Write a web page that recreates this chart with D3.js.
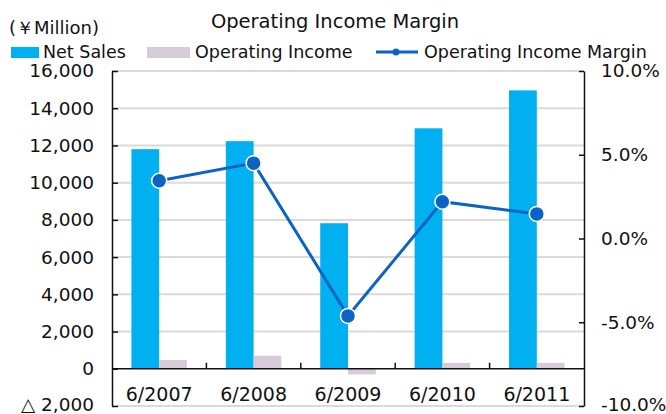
<!DOCTYPE html>
<html>
<head>
<meta charset="utf-8">
<script src="https://cdnjs.cloudflare.com/ajax/libs/d3/7.8.5/d3.min.js"></script>
<style>
    body { margin: 0; background: #fff; }
    svg text { font-family: 'DejaVu Sans', Verdana, sans-serif; fill: #111; }
</style>
</head>
<body>
<svg id="chart" width="666" height="414"></svg>
<script>
const categories = ['6/2007', '6/2008', '6/2009', '6/2010', '6/2011'];
const netSales = [11800, 12230, 7820, 12920, 14960];
const operatingIncome = [470, 700, -300, 320, 320];
const incomeMargin = [3.45, 4.5, -4.62, 2.2, 1.47];
const leftTicks = [-2000, 0, 2000, 4000, 6000, 8000, 10000, 12000, 14000, 16000];
const rightTicks = [-10, -5, 0, 5, 10];

const margin = { top: 71, right: 82, bottom: 8, left: 112 };
const W = 666;
const H = 414;
const width = W - margin.left - margin.right;
const height = H - margin.top - margin.bottom;

const svg = d3.select('#chart');
const g = svg.append('g').attr('transform', `translate(${margin.left},${margin.top})`);

const x = d3.scaleBand().domain(categories).range([0, width]).padding(0);
const x1 = d3.scaleBand().domain(['sales', 'income']).range([0, x.bandwidth()]).paddingInner(0).paddingOuter(0.7);
const y = d3.scaleLinear().domain([-2000, 16000]).range([height, 0]);
const y2 = d3.scaleLinear().domain([-10, 10]).range([height, 0]);

// gridlines
g.append('g')
    .selectAll('line')
    .data(leftTicks.filter((d) => d !== 0))
    .join('line')
    .attr('x1', 0)
    .attr('x2', width)
    .attr('y1', (d) => y(d))
    .attr('y2', (d) => y(d))
    .attr('stroke', '#dadada')
    .attr('stroke-width', 2);

// bars
const rows = categories.map((c, i) => ({ cat: c, sales: netSales[i], income: operatingIncome[i], margin: incomeMargin[i] }));

g.append('g')
    .selectAll('rect')
    .data(rows)
    .join('rect')
    .attr('x', (d) => x(d.cat) + x1('sales'))
    .attr('width', x1.bandwidth())
    .attr('y', (d) => y(d.sales))
    .attr('height', (d) => y(0) - y(d.sales))
    .attr('fill', '#00b0f0');

g.append('g')
    .selectAll('rect')
    .data(rows)
    .join('rect')
    .attr('x', (d) => x(d.cat) + x1('income'))
    .attr('width', x1.bandwidth())
    .attr('y', (d) => y(Math.max(0, d.income)))
    .attr('height', (d) => Math.abs(y(0) - y(d.income)))
    .attr('fill', '#d6ccd7');

// axes
const axisLeft = d3.axisLeft(y)
    .tickValues(leftTicks)
    .tickSizeInner(-6)
    .tickSizeOuter(0)
    .tickPadding(18)
    .tickFormat((d) => (d < 0 ? '△ ' + d3.format(',')(-d) : d3.format(',')(d)));

const gl = g.append('g').call(axisLeft);

const axisRight = d3.axisRight(y2)
    .tickValues(rightTicks)
    .tickSizeInner(-5)
    .tickSizeOuter(0)
    .tickPadding(17)
    .tickFormat((d) => d.toFixed(1) + '%');

const gr = g.append('g').attr('transform', `translate(${width},0)`).call(axisRight);

[gl, gr].forEach((a) => {
    a.select('.domain').attr('stroke', '#111').attr('stroke-width', 1.5);
    a.selectAll('.tick line').attr('stroke', '#111').attr('stroke-width', 1.5);
    a.selectAll('.tick text').attr('font-size', 18.5).attr('fill', '#111');
});

// bottom labels sit just inside the picture
gl.selectAll('.tick text').filter((d) => d === leftTicks[0]).attr('dy', '0.22em');
gr.selectAll('.tick text').filter((d) => d === rightTicks[0]).attr('dy', '0.22em');

// category axis on zero line
const xg = g.append('g').attr('transform', `translate(0,${y(0)})`);
xg.append('line')
    .attr('x1', 0)
    .attr('x2', width)
    .attr('stroke', '#111')
    .attr('stroke-width', 1.5);

xg.selectAll('.bound')
    .data(categories.slice(1))
    .join('line')
    .attr('class', 'bound')
    .attr('x1', (d) => x(d))
    .attr('x2', (d) => x(d))
    .attr('y1', -6)
    .attr('y2', 0)
    .attr('stroke', '#111')
    .attr('stroke-width', 1.5);

xg.selectAll('.cat')
    .data(categories)
    .join('text')
    .attr('class', 'cat')
    .attr('x', (d) => x(d) + x.bandwidth() / 2)
    .attr('y', 32)
    .attr('text-anchor', 'middle')
    .attr('font-size', 19)
    .text((d) => d);

// margin line
const line = d3.line()
    .x((d) => x(d.cat) + x.bandwidth() / 2)
    .y((d) => y2(d.margin));

g.append('path')
    .datum(rows)
    .attr('d', line)
    .attr('fill', 'none')
    .attr('stroke', '#0c63c6')
    .attr('stroke-width', 3);

g.append('g')
    .selectAll('circle')
    .data(rows)
    .join('circle')
    .attr('cx', (d) => x(d.cat) + x.bandwidth() / 2)
    .attr('cy', (d) => y2(d.margin))
    .attr('r', 7.5)
    .attr('fill', '#0c63c6')
    .attr('stroke', '#fff')
    .attr('stroke-width', 1.5);

// title and unit
svg.append('text')
    .attr('x', 335)
    .attr('y', 28)
    .attr('text-anchor', 'middle')
    .attr('font-size', 19.5)
    .text('Operating Income Margin');

svg.append('text')
    .attr('x', 9)
    .attr('y', 34)
    .attr('font-size', 18)
    .text('(￥Million)');

// legend
const lg = svg.append('g');
lg.append('rect').attr('x', 11).attr('y', 47).attr('width', 28).attr('height', 11).attr('fill', '#00b0f0');
lg.append('text').attr('x', 43).attr('y', 58).attr('font-size', 17.5).text('Net Sales');
lg.append('rect').attr('x', 147).attr('y', 47).attr('width', 43).attr('height', 11).attr('fill', '#d6ccd7');
lg.append('text').attr('x', 195).attr('y', 58).attr('font-size', 17.5).text('Operating Income');
lg.append('line').attr('x1', 376).attr('x2', 418).attr('y1', 52).attr('y2', 52)
    .attr('stroke', '#0c63c6').attr('stroke-width', 3);
lg.append('circle').attr('cx', 396).attr('cy', 52).attr('r', 3.5).attr('fill', '#0c63c6');
lg.append('text').attr('x', 424).attr('y', 58).attr('font-size', 17.5).text('Operating Income Margin');
</script>
</body>
</html>
